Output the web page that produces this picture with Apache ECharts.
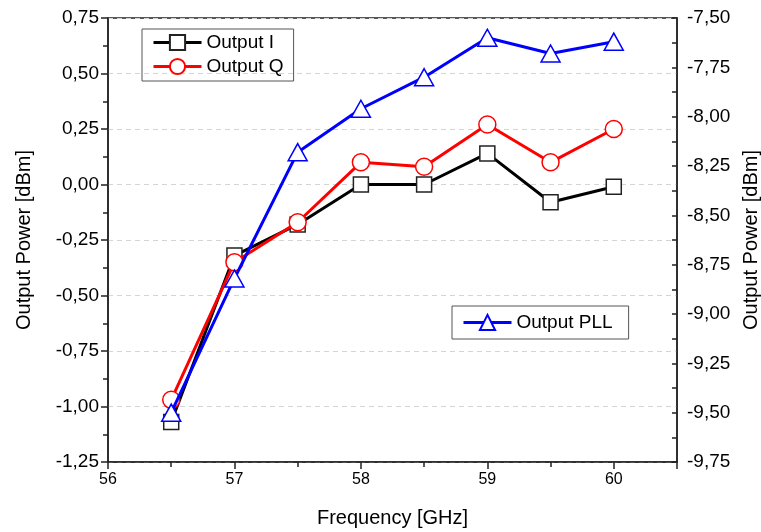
<!DOCTYPE html>
<html><head><meta charset="utf-8">
<script src="https://cdn.jsdelivr.net/npm/echarts@6/dist/echarts.min.js"></script>
<style>html,body{margin:0;padding:0;background:#fff}#c{width:761px;height:532px}</style>
</head><body><div id="c"></div>
<script>
const freq = [56.5, 57, 57.5, 58, 58.5, 59, 59.5, 60];
const outputI = [-1.07, -0.32, -0.18, 0.00, 0.00, 0.14, -0.08, -0.01];
const outputQ = [-0.97, -0.35, -0.17, 0.10, 0.08, 0.27, 0.10, 0.25];
const outputPLL = [-9.50, -8.82, -8.18, -7.96, -7.80, -7.60, -7.68, -7.62];

const FONT = '"Liberation Sans", Arial, sans-serif';
const fmt = v => v.toFixed(2).replace('.', ',');
const pair = (xs, ys) => xs.map((x, i) => [x, ys[i]]);

const chart = echarts.init(document.getElementById('c'), null, {renderer: 'canvas'});
chart.setOption({
  animation: false,
  backgroundColor: '#fff',
  grid: {left: 108, right: 84, top: 18, bottom: 70, show: true, borderColor: '#222', borderWidth: 1.5,
         outerBoundsMode: 'none', containLabel: false},
  legend: [
    {data: ['Output I', 'Output Q'], left: 142, top: 29, orient: 'vertical',
     borderColor: '#555', borderWidth: 1, padding: [4, 10, 5, 10], itemGap: 5,
     itemWidth: 48, itemHeight: 19, lineStyle: {width: 3},
     textStyle: {fontFamily: FONT, fontSize: 19, color: '#000'}},
    {data: ['Output PLL'], left: 452, top: 306, orient: 'vertical',
     borderColor: '#555', borderWidth: 1, padding: [7, 16, 7, 10],
     itemWidth: 48, itemHeight: 19, lineStyle: {width: 3},
     textStyle: {fontFamily: FONT, fontSize: 19, color: '#000'}}
  ],
  xAxis: {
    type: 'value', min: 56, max: 60.5, interval: 1,
    name: 'Frequency [GHz]', nameLocation: 'middle', nameGap: 46,
    nameTextStyle: {fontFamily: FONT, fontSize: 20, color: '#000'},
    axisLine: {onZero: false, lineStyle: {color: '#222', width: 1.5}},
    axisTick: {show: true, length: 7, lineStyle: {color: '#222', width: 1.5}},
    minorTick: {show: true, splitNumber: 2, length: 5, lineStyle: {color: '#222', width: 1.5}},
    axisLabel: {fontFamily: FONT, fontSize: 16, color: '#000', margin: 10, showMaxLabel: false,
      formatter: v => Number.isInteger(v) ? String(v) : ''},
    splitLine: {show: false}
  },
  yAxis: [
    {type: 'value', min: -1.25, max: 0.75, interval: 0.25, position: 'left',
     name: 'Output Power [dBm]', nameLocation: 'middle', nameGap: 74,
     nameTextStyle: {fontFamily: FONT, fontSize: 20, color: '#000'},
     axisLine: {show: true, onZero: false, lineStyle: {color: '#222', width: 1.5}},
     axisTick: {show: true, length: 7, lineStyle: {color: '#222', width: 1.5}},
     minorTick: {show: true, splitNumber: 2, length: 5, lineStyle: {color: '#222', width: 1.5}},
     axisLabel: {fontFamily: FONT, fontSize: 19, color: '#000', margin: 9, formatter: fmt},
     splitLine: {show: true, lineStyle: {color: '#d4d4d4', type: [5, 4], width: 1}}},
    {type: 'value', min: -9.75, max: -7.5, interval: 0.25, position: 'right',
     name: 'Output Power [dBm]', nameLocation: 'middle', nameGap: 53, nameRotate: 90,
     nameTextStyle: {fontFamily: FONT, fontSize: 20, color: '#000'},
     axisLine: {show: true, onZero: false, lineStyle: {color: '#222', width: 1.5}},
     axisTick: {show: true, inside: true, length: 5, lineStyle: {color: '#222', width: 1.5}},
     minorTick: {show: true, splitNumber: 2, length: 5, lineStyle: {color: '#222', width: 1.5}},
     axisLabel: {fontFamily: FONT, fontSize: 19, color: '#000', margin: 10, formatter: fmt},
     splitLine: {show: false}}
  ],
  series: [
    {name: 'Output I', type: 'line', yAxisIndex: 0, data: pair(freq, outputI),
     symbol: 'rect', symbolSize: 15, lineStyle: {color: '#000', width: 3},
     itemStyle: {color: '#fff', borderColor: '#222', borderWidth: 1.5}, color: '#000', z: 2},
    {name: 'Output Q', type: 'line', yAxisIndex: 0, data: pair(freq, outputQ),
     symbol: 'circle', symbolSize: 17, lineStyle: {color: '#ff0000', width: 3},
     itemStyle: {color: '#fff', borderColor: '#ff0000', borderWidth: 1.5}, color: '#ff0000', z: 3},
    {name: 'Output PLL', type: 'line', yAxisIndex: 1, data: pair(freq, outputPLL),
     symbol: 'triangle', symbolSize: [19, 17], lineStyle: {color: '#0000ff', width: 3},
     itemStyle: {color: '#fff', borderColor: '#0000ff', borderWidth: 1.5}, color: '#0000ff', z: 4}
  ]
});
</script></body></html>
